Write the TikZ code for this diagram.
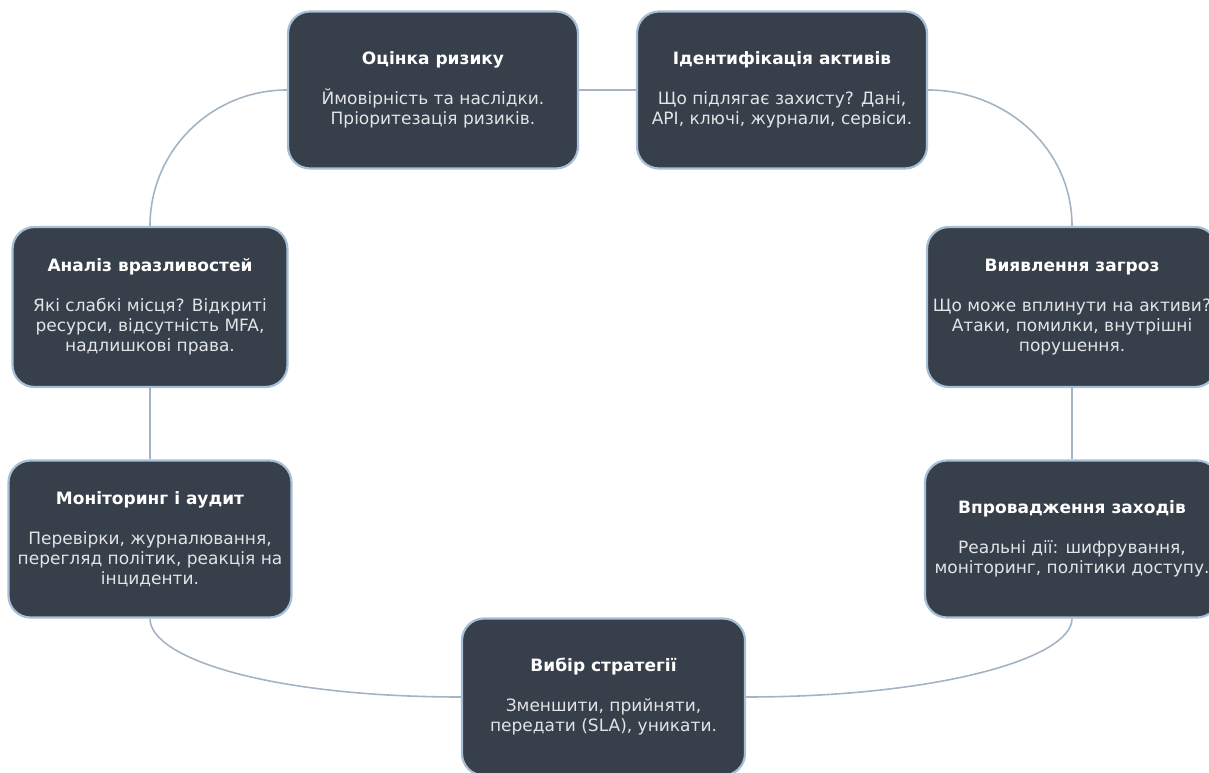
\documentclass[tikz,border=0pt]{standalone}
\usepackage{fontspec}
\setmainfont{DejaVu Sans}
\usepackage{xcolor}
\usetikzlibrary{positioning}
\definecolor{stagefill}{HTML}{363F4A}
\definecolor{stageedge}{HTML}{A6BED6}
\definecolor{linkgray}{HTML}{A3B4C5}
\definecolor{bodytext}{HTML}{E2E4E6}

\begin{document}
\begin{tikzpicture}[x=1pt, y=1pt,
    stage/.style={rectangle, rounded corners=22pt, draw=stageedge, line width=2.2pt, fill=stagefill, text=bodytext, align=center, minimum height=157pt, inner sep=2pt, font=\fontsize{17}{20}\selectfont},
    link/.style={draw=linkgray, line width=1.6pt}]
    \useasboundingbox (0,0) rectangle (1209,773);
    \node[stage, minimum width=290pt] (ocinka) at (433,683) {\textbf{\color{white}Оцінка ризику}\\[20pt]Ймовірність та наслідки.\\Пріоритезація ризиків.};
    \node[stage, minimum width=290pt] (ident) at (782,683) {\textbf{\color{white}Ідентифікація активів}\\[20pt]Що підлягає захисту? Дані,\\API, ключі, журнали, сервіси.};
    \node[stage, minimum width=290pt, minimum height=160pt] (vyyav) at (1072,466) {\textbf{\color{white}Виявлення загроз}\\[20pt]Що може вплинути на активи?\\Атаки, помилки, внутрішні\\порушення.};
    \node[stage, minimum width=294pt] (vprov) at (1072,234) {\textbf{\color{white}Впровадження заходів}\\[20pt]Реальні дії: шифрування,\\моніторинг, політики доступу.};
    \node[stage, minimum width=283pt] (vybir) at (603.5,76) {\textbf{\color{white}Вибір стратегії}\\[20pt]Зменшити, прийняти,\\передати (SLA), уникати.};
    \node[stage, minimum width=283pt] (monit) at (150,234) {\textbf{\color{white}Моніторинг і аудит}\\[20pt]Перевірки, журналювання,\\перегляд політик, реакція на\\інциденти.};
    \node[stage, minimum width=275pt, minimum height=160pt] (analiz) at (150,466) {\textbf{\color{white}Аналіз вразливостей}\\[20pt]Які слабкі місця? Відкриті\\ресурси, відсутність MFA,\\надлишкові права.};

    \draw[link] (ocinka.east) -- (ident.west);
    \draw[link] (ident.east) to[out=0, in=90] (vyyav.north);
    \draw[link] (vyyav.south) -- (vprov.north);
    \draw[link] (vprov.south) to[out=-90, in=0, out distance=40pt, in distance=190pt] (vybir.east);
    \draw[link] (vybir.west) to[out=180, in=-90, out distance=190pt, in distance=40pt] (monit.south);
    \draw[link] (monit.north) -- (analiz.south);
    \draw[link] (analiz.north) to[out=90, in=180] (ocinka.west);
\end{tikzpicture}
\end{document}
